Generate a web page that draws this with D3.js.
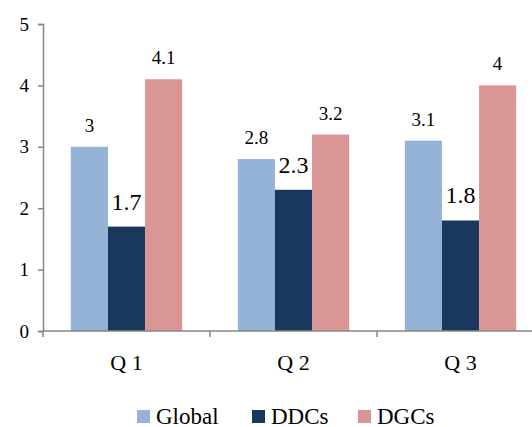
<!DOCTYPE html>
<html>
<head>
<meta charset="utf-8">
<script src="https://cdn.jsdelivr.net/npm/d3@7"></script>
</head>
<body style="margin:0">
<svg id="chart" width="532" height="427" style="font-family: 'Times New Roman', Times, 'Liberation Serif', serif"></svg>
<script>
// Quarterly scores for three groups
const categories = ["Q 1", "Q 2", "Q 3"];
const seriesNames = ["Global", "DDCs", "DGCs"];
const globalValues = [3, 2.8, 3.1];
const ddcValues = [1.7, 2.3, 1.8];
const dgcValues = [4.1, 3.2, 4];
const yTicks = [0, 1, 2, 3, 4, 5];
const colors = ["#95b3d7", "#1a375d", "#d99694"];

const series = [globalValues, ddcValues, dgcValues];

const svg = d3.select("#chart");
const W = 532;

// Every text node gets the serif face directly
function serif(sel) {
  sel.each(function () {
    this.style.setProperty("font-family", "'Times New Roman', Times, 'Liberation Serif', serif", "important");
  });
  return sel;
}

const x0 = d3.scaleBand().domain(categories).range([43, 544]).paddingInner(0).paddingOuter(0);
const x1 = d3.scaleBand().domain(seriesNames).range([0, x0.bandwidth()]).paddingInner(0).paddingOuter(0.75);
const y = d3.scaleLinear().domain([0, 5]).range([331, 24]);

const cells = (c, ci) => seriesNames.map((s, si) => ({ s, si, v: series[si][ci] }));

// Bars
const groups = svg.append("g").selectAll("g")
  .data(categories)
  .join("g")
  .attr("transform", d => `translate(${x0(d)},0)`);

groups.selectAll("rect")
  .data(cells)
  .join("rect")
  .attr("x", d => x1(d.s))
  .attr("width", x1.bandwidth())
  .attr("y", d => y(d.v))
  .attr("height", d => y(0) - y(d.v))
  .attr("fill", d => colors[d.si]);

// Value labels
groups.selectAll("text")
  .data(cells)
  .join("text")
  .attr("x", d => x1(d.s) + x1.bandwidth() / 2)
  .attr("y", d => y(d.v) - (d.si === 1 ? 17 : 15))
  .attr("text-anchor", "middle")
  .attr("font-size", d => d.si === 1 ? 24 : 19)
  .attr("fill", "#000")
  .text(d => d.v)
  .call(serif);

// Y axis
const yAxis = svg.append("g")
  .attr("transform", "translate(43,0)")
  .call(d3.axisLeft(y).tickValues(yTicks).tickSize(5).tickPadding(9).tickFormat(d3.format("d")));
yAxis.attr("font-family", null).attr("font-size", null);
yAxis.select(".domain").attr("stroke", "#868686").attr("stroke-width", 1.5);
yAxis.selectAll(".tick line").attr("stroke", "#868686").attr("stroke-width", 1.5);
yAxis.selectAll(".tick text")
  .attr("font-size", 19)
  .attr("fill", "#000")
  .call(serif);

// X axis
const xAxis = svg.append("g")
  .attr("transform", `translate(0,${y(0)})`);
xAxis.append("line")
  .attr("x1", 43).attr("x2", W)
  .attr("stroke", "#868686").attr("stroke-width", 1.5);
xAxis.selectAll("line.tk")
  .data(categories)
  .join("line")
  .attr("class", "tk")
  .attr("x1", d => x0(d)).attr("x2", d => x0(d))
  .attr("y1", 0).attr("y2", 6)
  .attr("stroke", "#868686").attr("stroke-width", 1.5);
xAxis.selectAll("text")
  .data(categories)
  .join("text")
  .attr("x", d => x0(d) + x0.bandwidth() / 2)
  .attr("y", 39)
  .attr("text-anchor", "middle")
  .attr("font-size", 22)
  .attr("fill", "#000")
  .text(d => d)
  .call(serif);

// Legend
const legendX = [137, 252, 358];
const items = svg.append("g").selectAll("g")
  .data(seriesNames)
  .join("g")
  .attr("transform", (d, i) => `translate(${legendX[i]},410)`);
items.append("rect")
  .attr("width", 13).attr("height", 13)
  .attr("fill", (d, i) => colors[i]);
items.append("text")
  .attr("x", 19).attr("y", 14)
  .attr("font-size", 23)
  .attr("fill", "#000")
  .text(d => d)
  .call(serif);
</script>
</body>
</html>
